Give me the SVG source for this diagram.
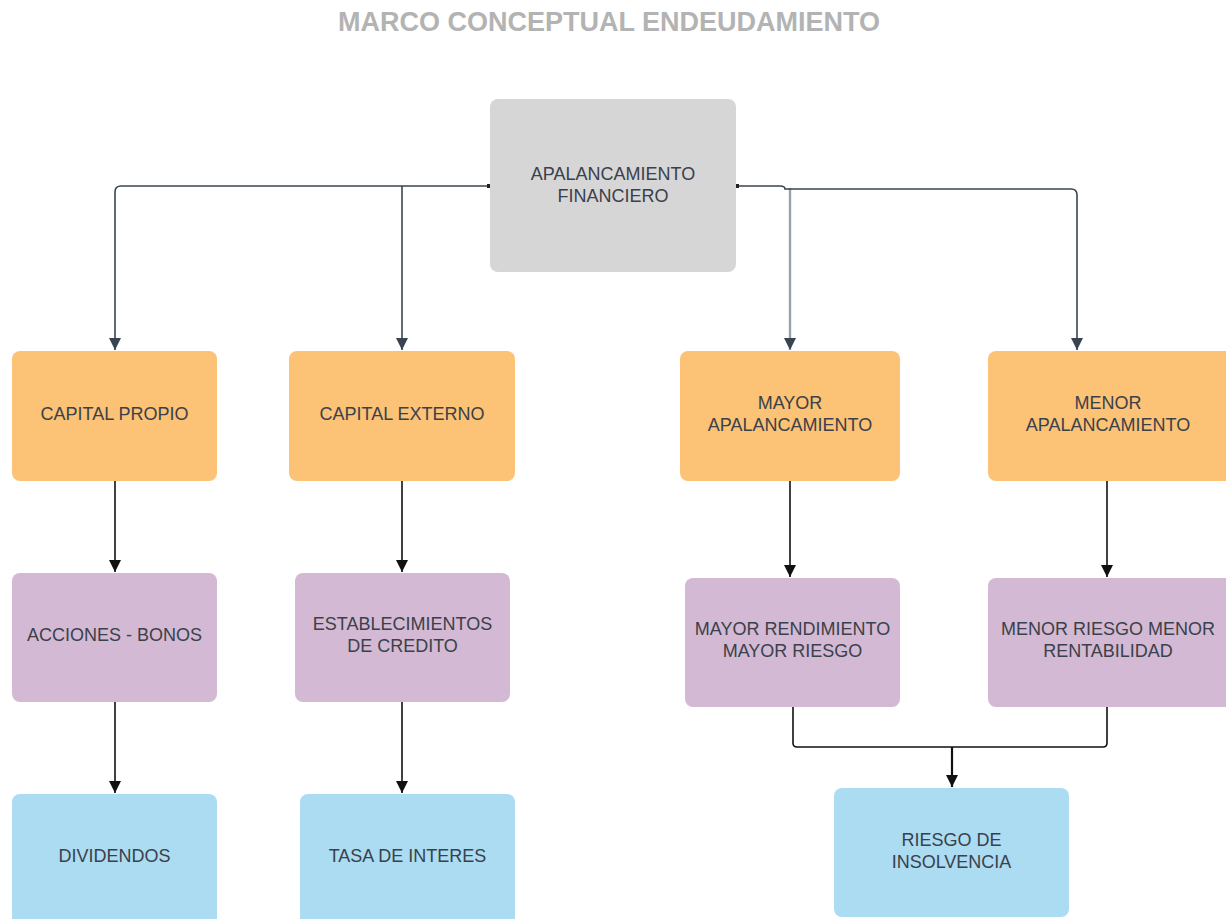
<svg xmlns="http://www.w3.org/2000/svg" width="1226" height="919" viewBox="0 0 1226 919">
<style>
.t{font-family:"Liberation Sans",Arial,sans-serif;font-size:18px;fill:#3a414a;text-anchor:middle}
.title{font-family:"Liberation Sans",Arial,sans-serif;font-size:27px;font-weight:bold;fill:#b3b3b3;text-anchor:middle}
.g{fill:#d6d6d6}.o{fill:#fcc276}.p{fill:#d3b9d3}.b{fill:#abdcf2}
.c1{fill:none;stroke:#3a4450;stroke-width:1.6}
.c2{fill:none;stroke:#111;stroke-width:1.6}
</style>
<defs>
<marker id="a1" markerWidth="12" markerHeight="14" refX="12" refY="6" orient="auto" markerUnits="userSpaceOnUse">
<path d="M0,0 L12,6 L0,12 Z" fill="#3a4450"/>
</marker>
<marker id="a2" markerWidth="12" markerHeight="14" refX="12" refY="6" orient="auto" markerUnits="userSpaceOnUse">
<path d="M0,0 L12,6 L0,12 Z" fill="#111"/>
</marker>
</defs>
<rect width="1226" height="919" fill="#fff"/>
<text class="title" x="609" y="31">MARCO CONCEPTUAL ENDEUDAMIENTO</text>

<g id="connectors">
<path class="c1" d="M490,186 H121 Q115,186 115,192 V350" marker-end="url(#a1)"/>
<path class="c1" d="M402,186 V350" marker-end="url(#a1)"/>
<path d="M790,188 V350" style="fill:none;stroke:#9aa1a9;stroke-width:2.4" marker-end="url(#a1)"/>
<path class="c1" d="M736,186 H780 Q785,186 785,189 L795,189 H1071 Q1077,189 1077,195 V350" marker-end="url(#a1)"/>
<path class="c2" d="M115,481 V572" marker-end="url(#a2)"/>
<path class="c2" d="M402,481 V572" marker-end="url(#a2)"/>
<path class="c2" d="M790,481 V577" marker-end="url(#a2)"/>
<path class="c2" d="M1107,481 V577" marker-end="url(#a2)"/>
<path class="c2" d="M115,702 V793" marker-end="url(#a2)"/>
<path class="c2" d="M402,702 V793" marker-end="url(#a2)"/>
<path class="c2" d="M793,707 V743 Q793,747 797,747 H1103 Q1107,747 1107,743 V707"/>
<path class="c2" d="M952,747 V787" marker-end="url(#a2)" style="stroke-width:2.2"/>
<rect x="487" y="184" width="4" height="4" fill="#222"/>
<rect x="735" y="184" width="4" height="4" fill="#222"/>
</g>

<g id="n-apalancamiento">
<rect class="g" x="490" y="99" width="246" height="173" rx="8"/>
<text class="t" x="613" y="180">APALANCAMIENTO</text>
<text class="t" x="613" y="202">FINANCIERO</text>
</g>
<g id="n-capital-propio">
<rect class="o" x="12" y="351" width="205" height="130" rx="8"/>
<text class="t" x="114.5" y="420">CAPITAL PROPIO</text>
</g>
<g id="n-capital-externo">
<rect class="o" x="289" y="351" width="226" height="130" rx="8"/>
<text class="t" x="402" y="420">CAPITAL EXTERNO</text>
</g>
<g id="n-mayor-apalancamiento">
<rect class="o" x="680" y="351" width="220" height="130" rx="8"/>
<text class="t" x="790" y="409">MAYOR</text>
<text class="t" x="790" y="431">APALANCAMIENTO</text>
</g>
<g id="n-menor-apalancamiento">
<rect class="o" x="988" y="351" width="245" height="130" rx="8"/>
<text class="t" x="1108" y="409">MENOR</text>
<text class="t" x="1108" y="431">APALANCAMIENTO</text>
</g>
<g id="n-acciones">
<rect class="p" x="12" y="573" width="205" height="129" rx="8"/>
<text class="t" x="114.5" y="641">ACCIONES - BONOS</text>
</g>
<g id="n-establecimientos">
<rect class="p" x="295" y="573" width="215" height="129" rx="8"/>
<text class="t" x="402.5" y="630">ESTABLECIMIENTOS</text>
<text class="t" x="402.5" y="652">DE CREDITO</text>
</g>
<g id="n-mayor-rendimiento">
<rect class="p" x="685" y="578" width="215" height="129" rx="8"/>
<text class="t" x="792.5" y="635">MAYOR RENDIMIENTO</text>
<text class="t" x="792.5" y="657">MAYOR RIESGO</text>
</g>
<g id="n-menor-riesgo">
<rect class="p" x="988" y="578" width="245" height="129" rx="8"/>
<text class="t" x="1108" y="635">MENOR RIESGO MENOR</text>
<text class="t" x="1108" y="657">RENTABILIDAD</text>
</g>
<g id="n-dividendos">
<rect class="b" x="12" y="794" width="205" height="140" rx="8"/>
<text class="t" x="114.5" y="862">DIVIDENDOS</text>
</g>
<g id="n-tasa">
<rect class="b" x="300" y="794" width="215" height="140" rx="8"/>
<text class="t" x="407.5" y="862">TASA DE INTERES</text>
</g>
<g id="n-insolvencia">
<rect class="b" x="834" y="788" width="235" height="129" rx="8"/>
<text class="t" x="951.5" y="846">RIESGO DE</text>
<text class="t" x="951.5" y="868">INSOLVENCIA</text>
</g>
</svg>
